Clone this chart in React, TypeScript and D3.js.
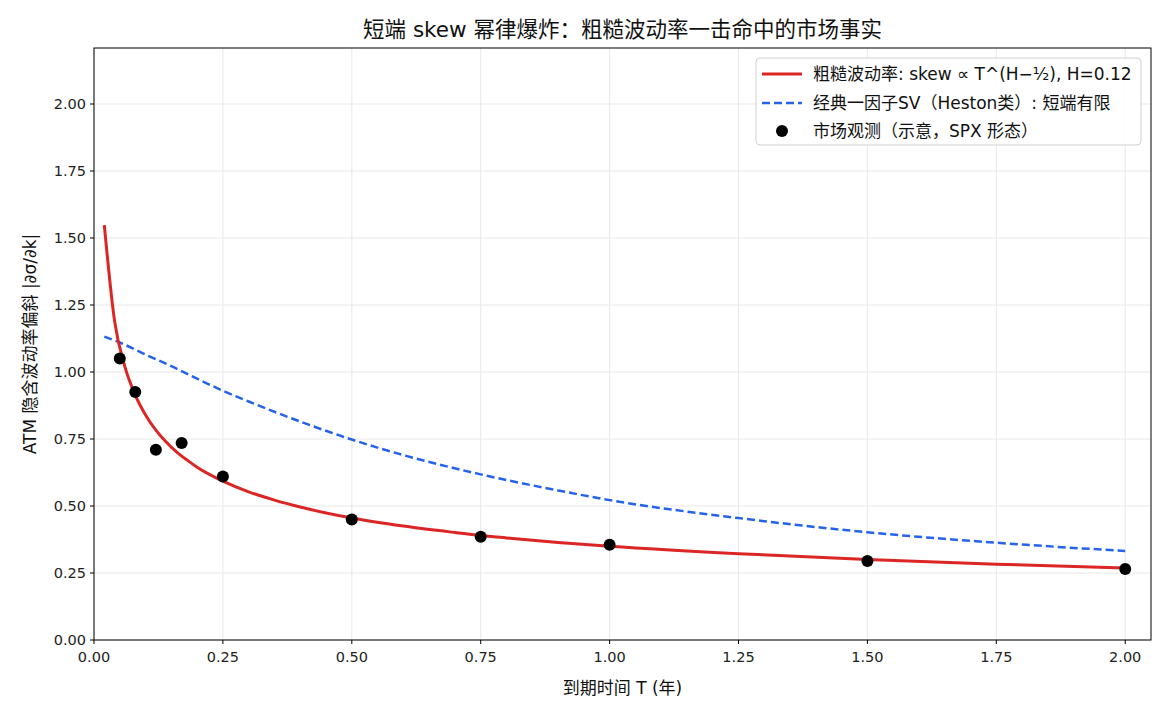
import React from "react";
import * as d3 from "d3";

const roughT = [0.02, 0.04, 0.06, 0.08, 0.1, 0.12, 0.14, 0.16, 0.18, 0.2, 0.25, 0.3, 0.35, 0.4, 0.5, 0.6, 0.7, 0.75, 0.8, 0.9, 1.0, 1.25, 1.5, 1.75, 2.0];
const roughSkew = [1.548, 1.189, 1.019, 0.914, 0.84, 0.783, 0.739, 0.702, 0.672, 0.645, 0.593, 0.553, 0.522, 0.496, 0.455, 0.425, 0.401, 0.39, 0.381, 0.364, 0.35, 0.322, 0.3, 0.283, 0.269];

const hestonT = [0.02, 0.05, 0.1, 0.15, 0.2, 0.25, 0.3, 0.4, 0.5, 0.6, 0.75, 0.9, 1.0, 1.25, 1.5, 1.75, 2.0];
const hestonSkew = [1.132, 1.11, 1.065, 1.022, 0.975, 0.93, 0.89, 0.815, 0.748, 0.69, 0.618, 0.558, 0.522, 0.455, 0.402, 0.363, 0.332];

const marketT = [0.05, 0.08, 0.12, 0.17, 0.25, 0.5, 0.75, 1.0, 1.5, 2.0];
const marketSkew = [1.05, 0.925, 0.71, 0.735, 0.61, 0.45, 0.385, 0.355, 0.295, 0.265];

const xTicks = [0, 0.25, 0.5, 0.75, 1.0, 1.25, 1.5, 1.75, 2.0];
const yTicks = [0, 0.25, 0.5, 0.75, 1.0, 1.25, 1.5, 1.75, 2.0];

const legendLabels = [
  "粗糙波动率: skew ∝ T^(H−½), H=0.12",
  "经典一因子SV（Heston类）: 短端有限",
  "市场观测（示意，SPX 形态）",
];

const RED = "#dc2626";
const BLUE = "#2563eb";
const FONT = "'DejaVu Sans', 'Noto Sans CJK SC', sans-serif";

export default function App() {
  const W = 1170, H = 715;
  const left = 94, right = 1151, top = 48, bottom = 640;
  const x = d3.scaleLinear().domain([0, 2.05]).range([left, right]);
  const y = d3.scaleLinear().domain([0, 2.209]).range([bottom, top]);

  const line = d3.line<[number, number]>().x(d => x(d[0])).y(d => y(d[1])).curve(d3.curveMonotoneX);
  const roughPath = line(roughT.map((t, i) => [t, roughSkew[i]]) as [number, number][]) || "";
  const hestonPath = line(hestonT.map((t, i) => [t, hestonSkew[i]]) as [number, number][]) || "";

  return (
    <svg width={W} height={H} style={{ position: "absolute", left: 0, top: 0, background: "#fff" }} fontFamily={FONT}>
      <rect x={0} y={0} width={W} height={H} fill="#fff" />
      {xTicks.map(t => (
        <line key={"gx" + t} x1={x(t)} x2={x(t)} y1={top} y2={bottom} stroke="#e8e8e8" strokeWidth={1} />
      ))}
      {yTicks.map(t => (
        <line key={"gy" + t} x1={left} x2={right} y1={y(t)} y2={y(t)} stroke="#e8e8e8" strokeWidth={1} />
      ))}
      <defs>
        <clipPath id="clip"><rect x={left} y={top} width={right - left} height={bottom - top} /></clipPath>
      </defs>
      <g clipPath="url(#clip)">
        <path d={hestonPath} fill="none" stroke={BLUE} strokeWidth={2.5} strokeDasharray="8,4" />
        <path d={roughPath} fill="none" stroke={RED} strokeWidth={3} />
        {marketT.map((t, i) => (
          <circle key={"m" + i} cx={x(t)} cy={y(marketSkew[i])} r={6} fill="#000" />
        ))}
      </g>
      <rect x={left} y={top} width={right - left} height={bottom - top} fill="none" stroke="#000" strokeWidth={1} />
      {xTicks.map(t => (
        <g key={"tx" + t}>
          <line x1={x(t)} x2={x(t)} y1={bottom} y2={bottom + 4} stroke="#000" />
          <text x={x(t)} y={bottom + 22} textAnchor="middle" fontSize={14.5} fill="#222">{t.toFixed(2)}</text>
        </g>
      ))}
      {yTicks.map(t => (
        <g key={"ty" + t}>
          <line x1={left - 4} x2={left} y1={y(t)} y2={y(t)} stroke="#000" />
          <text x={left - 8} y={y(t) + 5} textAnchor="end" fontSize={14.5} fill="#222">{t.toFixed(2)}</text>
        </g>
      ))}
      <text x={(left + right) / 2} y={37} textAnchor="middle" fontSize={21.5} fill="#111">短端 skew 幂律爆炸：粗糙波动率一击命中的市场事实</text>
      <text x={(left + right) / 2} y={694} textAnchor="middle" fontSize={17} fill="#111">到期时间 T (年)</text>
      <text transform={`translate(36, ${(top + bottom) / 2}) rotate(-90)`} textAnchor="middle" fontSize={17} fill="#111">ATM 隐含波动率偏斜 |∂σ/∂k|</text>
      <g>
        <rect x={756} y={58} width={385} height={87} rx={4} fill="#fff" fillOpacity={0.85} stroke="#d0d0d0" />
        <line x1={762} x2={802} y1={74} y2={74} stroke={RED} strokeWidth={3} />
        <line x1={762} x2={802} y1={103} y2={103} stroke={BLUE} strokeWidth={2.5} strokeDasharray="8,4" />
        <circle cx={782} cy={131} r={6} fill="#000" />
        {legendLabels.map((s, i) => (
          <text key={s} x={813} y={80 + i * 28.5} fontSize={17} fill="#111">{s}</text>
        ))}
      </g>
    </svg>
  );
}
